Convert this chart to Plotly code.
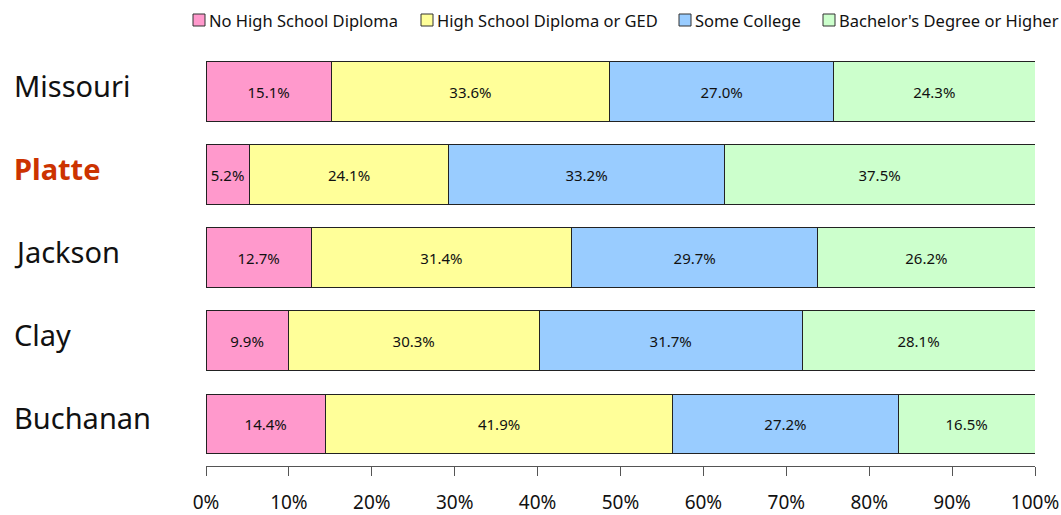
import plotly.graph_objects as go

counties = ["Buchanan", "Clay", "Jackson", "Platte", "Missouri"]
series_names = ["No High School Diploma", "High School Diploma or GED", "Some College", "Bachelor's Degree or Higher"]
no_hs = [14.4, 9.9, 12.7, 5.2, 15.1]
hs_ged = [41.9, 30.3, 31.4, 24.1, 33.6]
some_college = [27.2, 31.7, 29.7, 33.2, 27.0]
bachelors = [16.5, 28.1, 26.2, 37.5, 24.3]
colors = ["#FF99CC", "#FFFF99", "#99CCFF", "#CCFFCC"]
tick_vals = [0, 10, 20, 30, 40, 50, 60, 70, 80, 90, 100]
tick_text = ["0%", "10%", "20%", "30%", "40%", "50%", "60%", "70%", "80%", "90%", "100%"]

FONT = "Noto Sans"
W, H = 1061, 515
ml, mr, mt, mb = 206, 26, 50, 49
pw = W - ml - mr
ph = H - mt - mb

fig = go.Figure()
for name, vals, col in zip(series_names, [no_hs, hs_ged, some_college, bachelors], colors):
    fig.add_trace(go.Bar(
        y=counties, x=vals, name=name, orientation="h",
        marker=dict(color=col, line=dict(color="#222222", width=1)),
        texttemplate="%{x:.1f}%", textposition="inside", insidetextanchor="middle",
        textfont=dict(family=FONT, size=15, color="#111111"), constraintext="none",
        width=0.72, showlegend=False,
    ))

# county labels
for c in counties:
    special = c == "Platte"
    fig.add_annotation(
        x=-(ml - 12) / pw, xref="paper", xanchor="left", y=c, yref="y", yanchor="middle",
        yshift=6,
        text=f"<b>{c}</b>" if special else c, showarrow=False,
        font=dict(family=FONT, size=29, color="#CC3300" if special else "#111111"),
    )

# legend drawn at top (pixel positions converted to paper coords)
def px_x(p):
    return (p - ml) / pw

def px_y(p):
    return (H - mb - p) / ph

legend_box_left = [193, 421, 679, 823]
for name, col, bx in zip(series_names, colors, legend_box_left):
    fig.add_shape(type="rect", xref="paper", yref="paper",
                  x0=px_x(bx), x1=px_x(bx + 12), y0=px_y(26), y1=px_y(14),
                  fillcolor=col, line=dict(color="#333333", width=1))
    fig.add_annotation(x=px_x(bx + 14), xref="paper", xanchor="left",
                       y=px_y(20), yref="paper", yanchor="middle",
                       text=name, showarrow=False,
                       font=dict(family=FONT, size=16.5, color="#111111"))

fig.update_layout(
    width=W, height=H, barmode="stack", bargap=0.28,
    margin=dict(l=ml, r=mr, t=mt, b=mb, autoexpand=False),
    plot_bgcolor="white", paper_bgcolor="white",
    font=dict(family=FONT, color="#111111"),
    showlegend=False,
    xaxis=dict(range=[0, 100], tickvals=tick_vals, ticktext=tick_text, showgrid=False,
               zeroline=False, showline=True, linecolor="#555555", linewidth=1,
               ticks="outside", ticklen=9, tickcolor="#555555", tickwidth=1,
               tickfont=dict(family=FONT, size=19), ticklabelstandoff=10, fixedrange=True,
               automargin=False),
    yaxis=dict(categoryorder="array", categoryarray=counties, range=[-0.506, 4.5],
               showticklabels=False, showgrid=False, zeroline=False, showline=False,
               fixedrange=True, automargin=False),
)
fig.write_html("out.html", config={"displayModeBar": False},
               post_script="document.body.style.margin='0px';document.body.style.overflow='hidden';")
